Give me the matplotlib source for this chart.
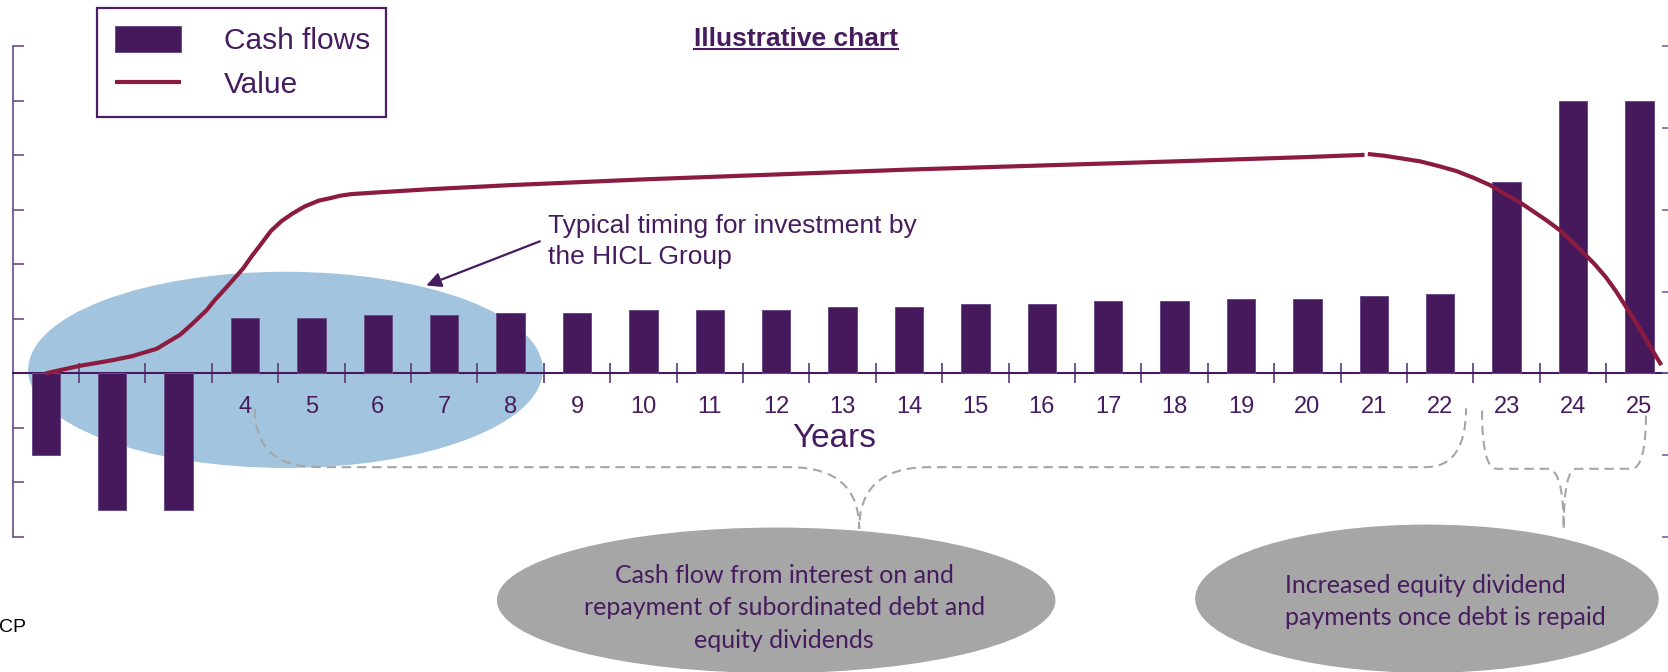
import numpy as np
import matplotlib.pyplot as plt
from matplotlib.patches import Ellipse, PathPatch
from matplotlib.path import Path
from matplotlib.lines import Line2D

plt.rcParams['font.family'] = ['Liberation Sans', 'DejaVu Sans']

# yearly cash flows (left scale)
years = np.arange(1, 26)
year_labels = ['', '', ''] + [str(y) for y in range(4, 26)]
cash_flows = [-1.5, -2.5, -2.5, 1.01, 1.01, 1.07, 1.07, 1.11, 1.11, 1.17,
              1.17, 1.17, 1.22, 1.22, 1.27, 1.27, 1.32, 1.32, 1.37, 1.37,
              1.42, 1.46, 3.51, 5.0, 5.0]

# value of the investment (right scale): build-up and hold ...
value_years_up = [1.0, 1.5, 2.0, 2.3, 2.67, 3.02, 3.2, 3.42, 3.55, 3.72,
                  3.85, 3.97, 4.1, 4.27, 4.39, 4.55, 4.71, 4.9, 5.11, 5.28,
                  5.43, 5.6, 5.98, 6.78, 8, 10, 12, 14, 16, 18, 19.89, 20.86]
value_up = [0.0, 0.09, 0.16, 0.21, 0.30, 0.47, 0.60, 0.77, 0.90, 1.05,
            1.17, 1.28, 1.43, 1.61, 1.74, 1.86, 1.95, 2.04, 2.11, 2.14,
            2.17, 2.19, 2.21, 2.25, 2.30, 2.37, 2.43, 2.49, 2.54, 2.59,
            2.64, 2.67]
# ... and run-off once the debt is repaid
value_years_down = [20.91, 21.15, 21.39, 21.7, 21.99, 22.25, 22.5, 22.75,
                    23.0, 23.2, 23.4, 23.6, 23.8, 24.0, 24.15, 24.33, 24.5,
                    24.65, 24.8, 24.95, 25.11, 25.22, 25.33]
value_down = [2.68, 2.66, 2.63, 2.59, 2.53, 2.47, 2.39, 2.30, 2.18, 2.09,
              1.98, 1.87, 1.75, 1.60, 1.48, 1.33, 1.17, 1.00, 0.81, 0.62,
              0.40, 0.25, 0.10]

PURPLE = '#45195c'
TEXT = '#461c5e'
MAROON = '#8c1c3f'
GREY = '#a6a6a6'
W, H = 1668, 672

fig = plt.figure(figsize=(W / 100, H / 100), dpi=100)
ax = fig.add_axes([12.6 / W, 135 / H, 1660 / W, 491 / H])
ax.set_xlim(0.5, 25.5)
ax.set_ylim(-3, 6)

# investment window
ax.add_patch(Ellipse((4.61, 0.064), 7.73, 3.57, color='#a2c4de', zorder=0.5))

bars = ax.bar(years, cash_flows, width=0.43, color=PURPLE, edgecolor='#6a4d86',
              linewidth=0.7, zorder=3, label='Cash flows')

for s in ['top', 'right']:
    ax.spines[s].set_visible(False)
ax.spines['left'].set_color('#6b4d87')
ax.spines['left'].set_linewidth(1.2)
ax.spines['bottom'].set_position(('data', 0))
ax.spines['bottom'].set_color('#46195e')
ax.spines['bottom'].set_linewidth(1.5)

ax.set_xticks(years)
ax.set_xticklabels(year_labels)
ax.tick_params(axis='x', which='major', length=0, pad=16, labelsize=17,
               labelcolor=TEXT)
ax.set_xticks(np.arange(1.5, 25, 1), minor=True)
ax.tick_params(axis='x', which='minor', direction='inout', length=14,
               width=1.2, color='#5a3a78')
ax.set_yticks(np.arange(-3, 7))
ax.tick_params(axis='y', direction='in', length=8, width=1.2,
               color='#6b4d87', labelleft=False)

ax2 = ax.twinx()
ax2.set_ylim(-2, 4)
for s in ax2.spines.values():
    s.set_visible(False)
ax2.set_yticks(np.arange(-2, 5))
ax2.tick_params(axis='y', direction='in', length=8, width=1.2,
                color='#7d5f97', labelright=False)
line, = ax2.plot(value_years_up, value_up, color=MAROON, lw=3,
                 solid_capstyle='butt', solid_joinstyle='round', label='Value')
ax2.plot(value_years_down, value_down, color=MAROON, lw=3,
         solid_capstyle='butt', solid_joinstyle='round')

leg = ax2.legend([bars, line], ['Cash flows', 'Value'], loc='upper left',
                 bbox_to_anchor=(97 / W, 1 - 116 / H, 289 / W, 108 / H),
                 bbox_transform=fig.transFigure, mode='expand',
                 borderaxespad=0, fontsize=21.5, labelcolor=TEXT,
                 handlelength=2.2, handleheight=0.97, handletextpad=1.44,
                 borderpad=0.6, labelspacing=0.5, fancybox=False,
                 framealpha=1)
leg.get_frame().set_edgecolor('#4a1f66')
leg.get_frame().set_linewidth(1.6)

ax.annotate('', xy=(6.73, 1.61), xytext=(8.44, 2.42),
            arrowprops=dict(arrowstyle='-|>', color=TEXT, lw=1.6,
                            mutation_scale=22, shrinkA=0, shrinkB=0))
ax.text(8.56, 2.42, 'Typical timing for investment by\nthe HICL Group',
        fontsize=19, color=TEXT, ha='left', va='center', linespacing=1.35)
ax.text(12.88, -1.2, 'Years', fontsize=24, color=TEXT, ha='center',
        va='center')


def brace(x_l, y_l, x_cl, x_ml, x_tip, y_tip, x_mr, x_cr, x_r, y_r, y_bar):
    verts = [(x_l, y_l), (x_l, y_bar), (x_cl, y_bar), (x_ml, y_bar),
             (x_tip, y_bar), (x_tip, y_tip), (x_tip, y_bar), (x_mr, y_bar),
             (x_cr, y_bar), (x_r, y_bar), (x_r, y_r)]
    codes = [Path.MOVETO, Path.CURVE3, Path.CURVE3, Path.LINETO,
             Path.CURVE3, Path.CURVE3, Path.CURVE3, Path.CURVE3,
             Path.LINETO, Path.CURVE3, Path.CURVE3]
    ax.add_patch(PathPatch(Path(verts, codes), fill=False, edgecolor=GREY,
                           lw=1.5, linestyle=(0, (4.5, 2.8)), clip_on=False,
                           zorder=1))


brace(4.15, -0.66, 5.11, 12.2, 13.25, -2.85, 14.3, 21.78, 22.39, -0.64, -1.72)
brace(22.63, -0.68, 22.85, 23.62, 23.86, -2.86, 24.05, 24.88, 25.1, -0.71, -1.75)

# grey call-outs below the axis
ax.add_patch(Ellipse((12.0, -4.16), 8.39, 2.64, color=GREY, clip_on=False,
                     zorder=1))
ax.add_patch(Ellipse((21.8, -4.13), 6.96, 2.69, color=GREY, clip_on=False,
                     zorder=1))
ax.text(12.12, -4.3, 'Cash flow from interest on and\nrepayment of subordinated debt and\nequity dividends',
        family=['Lato', 'DejaVu Sans'], fontsize=18, color=TEXT, ha='center',
        va='center', multialignment='center', linespacing=1.5, zorder=2)
ax.text(19.67, -4.18, 'Increased equity dividend\npayments once debt is repaid',
        family=['Lato', 'DejaVu Sans'], fontsize=18, color=TEXT, ha='left',
        va='center', linespacing=1.5, zorder=2)

title = fig.text(796 / W, 1 - 46.5 / H, 'Illustrative chart', ha='center',
                 va='baseline', fontsize=19, fontweight='bold', color=TEXT)
fig.text(-1 / W, 1 - 628 / H, 'CP', fontsize=14, color='black', va='center')

fig.canvas.draw()
bb = title.get_window_extent()
fig.add_artist(Line2D([bb.x0 / W, bb.x1 / W], [(H - 48.5) / H] * 2,
                      transform=fig.transFigure, color=TEXT, lw=1.5))

fig.savefig('out.png', dpi=100)
